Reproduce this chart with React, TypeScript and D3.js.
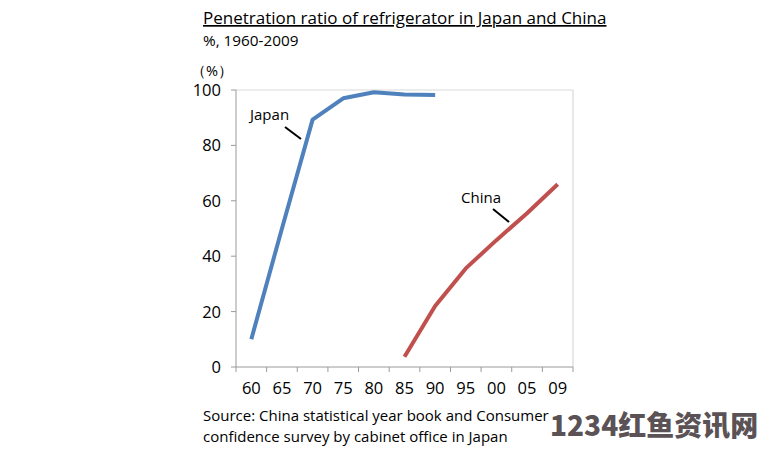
import React from "react";
import * as d3 from "d3";

const categories = ["60", "65", "70", "75", "80", "85", "90", "95", "00", "05", "09"];
const japanValues: (number | null)[] = [10, 50, 89.3, 97, 99.2, 98.4, 98.2, null, null, null, null];
const chinaValues: (number | null)[] = [null, null, null, null, null, 3.7, 22, 35.6, 45.8, 55.5, 66];
const yTicks = [0, 20, 40, 60, 80, 100];

const W = 764, H = 450;
const left = 236, right = 573, top = 90, bottom = 367;

export default function App() {
  const x = d3.scaleBand<string>().domain(categories).range([left, right]);
  const y = d3.scaleLinear().domain([0, 100]).range([bottom, top]);
  const line = d3
    .line<number | null>()
    .defined((d) => d !== null)
    .x((_, i) => (x(categories[i]) as number) + x.bandwidth() / 2)
    .y((d) => y(d as number));
  const font = "'Open Sans', sans-serif";
  const boundaries = categories.map((c) => x(c) as number).concat([right]);
  return (
    <svg width={W} height={H} style={{ position: "absolute", left: 0, top: 0, background: "#fff" }}>
      <rect x={0} y={0} width={W} height={H} fill="#fff" />
      <text x={203} y={24} fontFamily={font} fontSize={17} fill="#000" textDecoration="underline">
        Penetration ratio of refrigerator in Japan and China
      </text>
      <text x={203} y={46} fontFamily={font} fontSize={15.3} fill="#000">
        %, 1960-2009
      </text>
      <text x={191} y={76} fontFamily={font} fontSize={14.5} fill="#000">
        （%）
      </text>
      {/* frame */}
      <line x1={left} x2={right} y1={top} y2={top} stroke="#d9d9d9" strokeWidth={1.2} />
      <line x1={right} x2={right} y1={top} y2={bottom} stroke="#d9d9d9" strokeWidth={1.2} />
      {/* axes */}
      <line x1={left} x2={left} y1={top} y2={bottom} stroke="#9a9a9a" strokeWidth={1} />
      <line x1={left} x2={right} y1={bottom} y2={bottom} stroke="#9a9a9a" strokeWidth={1} />
      {yTicks.map((t) => (
        <g key={t}>
          <line x1={left - 5} x2={left} y1={y(t)} y2={y(t)} stroke="#9a9a9a" />
          <text x={221} y={y(t) + 6} textAnchor="end" fontFamily={font} fontSize={16.5} fill="#000">
            {t}
          </text>
        </g>
      ))}
      {boundaries.map((b, i) => (
        <line key={i} x1={b} x2={b} y1={bottom} y2={bottom + 5} stroke="#9a9a9a" />
      ))}
      {categories.map((c) => (
        <text key={c} x={(x(c) as number) + x.bandwidth() / 2} y={394} textAnchor="middle" fontFamily={font} fontSize={16.5} fill="#000">
          {c}
        </text>
      ))}
      <path d={line(japanValues) || ""} fill="none" stroke="#4f81bd" strokeWidth={4} strokeLinejoin="round" />
      <path d={line(chinaValues) || ""} fill="none" stroke="#c0504d" strokeWidth={4} strokeLinejoin="round" />
      <text x={250} y={120} fontFamily={font} fontSize={15} fill="#000">Japan</text>
      <line x1={285} y1={127} x2={301} y2={139} stroke="#000" strokeWidth={2} />
      <text x={461} y={203} fontFamily={font} fontSize={15} fill="#000">China</text>
      <line x1={493} y1={209} x2={509} y2={222} stroke="#000" strokeWidth={2} />
      <text x={203} y={421} fontFamily={font} fontSize={15} fill="#000">
        Source: China statistical year book and Consumer
      </text>
      <text x={203} y={442} fontFamily={font} fontSize={15} fill="#000">
        confidence survey by cabinet office in Japan
      </text>
      <text x={550} y={436} fontFamily="'Noto Sans CJK SC', sans-serif" fontWeight={900} fontSize={28} fill="#5a5255">
        1234红鱼资讯网
      </text>
    </svg>
  );
}
